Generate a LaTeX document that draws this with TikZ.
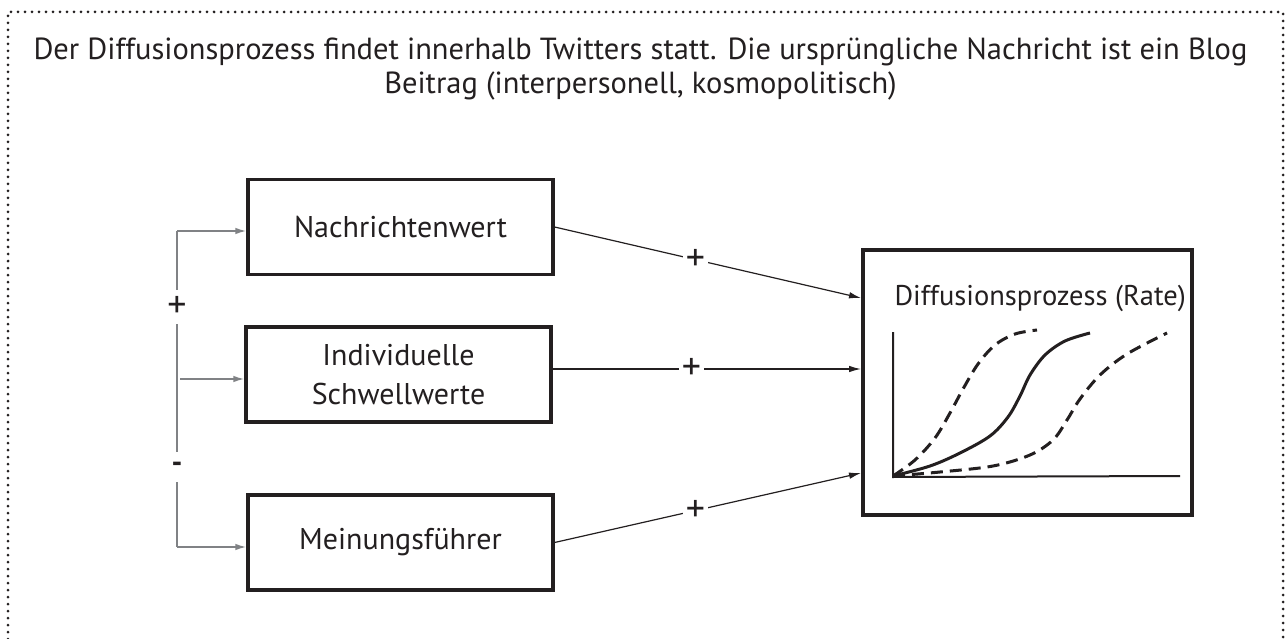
\documentclass[tikz,border=0pt]{standalone}
\usepackage{fontspec}
\setmainfont{PT Sans}
\usetikzlibrary{arrows.meta,calc}
\definecolor{ink}{HTML}{231F20}
\definecolor{linkgray}{HTML}{808285}
\begin{document}
\begin{tikzpicture}[x=1pt,y=-1pt,
  every node/.style={text=ink},
  factor/.style={draw=ink, line width=3.2pt, minimum width=305pt, minimum height=95pt,
    align=center, inner sep=0pt, font=\fontsize{30}{39}\selectfont},
  outcome/.style={draw=ink, line width=3.2pt, minimum width=329pt, minimum height=265pt, inner sep=0pt},
  feed/.style={draw=linkgray, line width=1.6pt, -{Latex[length=11pt,width=6.5pt]}},
  effect/.style={draw=ink, line width=1.2pt, -{Latex[length=12pt,width=6.5pt]}},
  sign/.style={fill=white, inner sep=3pt, font=\fontsize{38}{38}\selectfont},
  curve/.style={draw=ink, line width=3pt, line cap=butt},
  dashcurve/.style={curve, dash pattern=on 12pt off 7pt}]
\useasboundingbox (0,0) rectangle (1285,639);
\fill[white] (0,0) rectangle (1285,639);

% dotted frame, open at the bottom
\draw[ink, line width=3pt, line cap=round, dash pattern=on 0pt off 7pt]
  (8,639) -- (8,12) -- (1283,12) -- (1283,639);

% heading
\node[align=center, font=\fontsize{30.5}{34.5}\selectfont] (head) at (640.5,69)
  {Der Diffusionsprozess findet innerhalb Twitters statt. Die ursprüngliche Nachricht ist ein Blog\\
   Beitrag (interpersonell, kosmopolitisch)};

% factor boxes
\node[factor] (nw) at (400.5,227) {Nachrichtenwert};
\node[factor] (sw) at (398.5,374.5) {Individuelle\\Schwellwerte};
\node[factor] (mf) at (400.5,542.5) {Meinungsführer};

% outcome box
\node[outcome] (dp) at (1027.5,382.5) {};
\node[font=\fontsize{28.5}{30}\selectfont, anchor=east, inner sep=0pt] (dplab) at (1186,298) {Diffusionsprozess (Rate)};

% bracket on the left
\coordinate (ktop) at (177,231);
\coordinate (kmid) at (180,379);
\coordinate (kbot) at (177,547);
\draw[linkgray, line width=1.6pt] (ktop) -- (kbot);
\draw[feed] (ktop) -- (nw.west |- ktop);
\draw[feed] (kmid) -- (sw.west |- kmid);
\draw[feed] (kbot) -- (mf.west |- kbot);
\node[sign, inner ysep=6pt] (kplus) at (177,307) {+};
\node[sign, inner ysep=10pt, font=\fontsize{30}{30}\selectfont\bfseries] (kminus) at (177,467) {-};

% effects on the diffusion rate
\coordinate (e1) at (861,298);
\coordinate (e2) at (861,369);
\coordinate (e3) at (861,473);
\draw[effect] (nw.east) -- node[sign, pos=0.46] {+} (e1);
\draw[effect] (sw.east |- e2) -- node[sign, pos=0.45] {+} (e2);
\draw[effect] (mf.east) -- node[sign, pos=0.46] {+} (e3);

% small adoption chart
\coordinate (o) at (893,476);
\draw[ink, line width=2pt] (893,332) -- (893,477) -- (1180,476);
\draw[dashcurve] plot[smooth, tension=0.55] coordinates
  {(o) (915,460) (935,438) (950,413) (963,389) (978,364) (995,345) (1015,334) (1037,330)};
\draw[curve] plot[smooth, tension=0.55] coordinates
  {(o) (930,466) (960,453) (990,436) (1008,417) (1020,396) (1030,375) (1045,355) (1065,341) (1090,333)};
\draw[dashcurve] plot[smooth, tension=0.55] coordinates
  {(o) (940,472) (993,466) (1030,455) (1053,440) (1067,420) (1080,399) (1100,375) (1127,354) (1167,333)};
\end{tikzpicture}
\end{document}
